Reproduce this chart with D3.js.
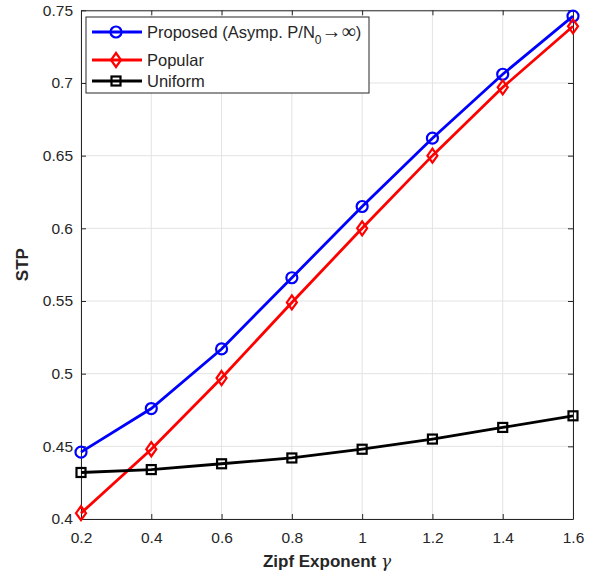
<!DOCTYPE html>
<meta charset="utf-8">
<style>
body{ margin:0; background:white; }
svg text{ font-family: "Liberation Sans", Arial, sans-serif; fill:#262626; }
</style>
<script src="https://d3js.org/d3.v7.min.js"></script>
<svg id="chart"></svg>
<script>
// data
var gammas = [0.2, 0.4, 0.6, 0.8, 1.0, 1.2, 1.4, 1.6];
var proposed = [0.446, 0.476, 0.517, 0.566, 0.615, 0.662, 0.706, 0.746];
var popular = [0.404, 0.448, 0.497, 0.549, 0.600, 0.650, 0.697, 0.739];
var uniform = [0.432, 0.434, 0.438, 0.442, 0.448, 0.455, 0.463, 0.471];
var xTicks = [0.2, 0.4, 0.6, 0.8, 1, 1.2, 1.4, 1.6];
var yTicks = [0.4, 0.45, 0.5, 0.55, 0.6, 0.65, 0.7, 0.75];

var svg_width = 595, svg_height = 578;
var margin = {top: 10.3, right: 22, bottom: 59, left: 81};
var width = svg_width - margin.left - margin.right,
    height = svg_height - margin.top - margin.bottom;

var svg = d3.select("#chart").attr("width", svg_width).attr("height", svg_height);
var g = svg.append("g").attr("transform", "translate(" + margin.left + "," + margin.top + ")");

var x = d3.scaleLinear().domain([0.2, 1.6]).range([0, width]);
var y = d3.scaleLinear().domain([0.4, 0.75]).range([height, 0]);

// grid
g.append("g").selectAll("line").data(xTicks).enter().append("line")
  .attr("x1", d => x(d)).attr("x2", d => x(d)).attr("y1", 0).attr("y2", height)
  .attr("stroke", "#e3e3e3").attr("stroke-width", 1);
g.append("g").selectAll("line").data(yTicks).enter().append("line")
  .attr("y1", d => y(d)).attr("y2", d => y(d)).attr("x1", 0).attr("x2", width)
  .attr("stroke", "#e3e3e3").attr("stroke-width", 1);

// axes (MATLAB style, ticks inward, box on)
function styleAxis(sel){
  sel.selectAll("path").attr("stroke", "#262626");
  sel.selectAll("line").attr("stroke", "#262626");
  sel.selectAll("text").style("font-size", "15.5px").attr("fill", "#262626");
}
var fmt = d => String(d);
g.append("g").attr("transform", "translate(0," + height + ")")
  .call(d3.axisBottom(x).tickValues(xTicks).tickFormat(fmt).tickSizeInner(-5).tickSizeOuter(0).tickPadding(13))
  .call(styleAxis);
g.append("g")
  .call(d3.axisLeft(y).tickValues(yTicks).tickFormat(fmt).tickSizeInner(-5).tickSizeOuter(0).tickPadding(8))
  .call(styleAxis);
g.append("g")
  .call(d3.axisTop(x).tickValues(xTicks).tickFormat("").tickSizeInner(-5).tickSizeOuter(0))
  .call(styleAxis);
g.append("g").attr("transform", "translate(" + width + ",0)")
  .call(d3.axisRight(y).tickValues(yTicks).tickFormat("").tickSizeInner(-5).tickSizeOuter(0))
  .call(styleAxis);

// series
var series = [
  {name: "proposed", values: proposed, color: "#0000ff", marker: "circle"},
  {name: "popular", values: popular, color: "#ff0000", marker: "diamond"},
  {name: "uniform", values: uniform, color: "#000000", marker: "square"}
];

var line = d3.line().x((d, i) => x(gammas[i])).y(d => y(d));

function drawMarker(sel, type, color){
  if(type == "circle"){
    sel.append("circle").attr("r", 5.5);
  } else if(type == "diamond"){
    sel.append("path").attr("d", "M0,-7L5,0L0,7L-5,0Z");
  } else {
    sel.append("rect").attr("x", -4.5).attr("y", -4.5).attr("width", 9).attr("height", 9);
  }
  sel.selectAll("circle,path,rect").attr("fill", "none").attr("stroke", color).attr("stroke-width", 2.2);
}

series.forEach(function(s){
  g.append("path").datum(s.values)
    .attr("d", line).attr("fill", "none").attr("stroke", s.color).attr("stroke-width", 2.8);
  g.append("g").selectAll("g").data(s.values).enter().append("g")
    .attr("transform", (d, i) => "translate(" + x(gammas[i]) + "," + y(d) + ")")
    .each(function(){ drawMarker(d3.select(this), s.marker, s.color); });
});

// legend
var lg = svg.append("g").attr("transform", "translate(86,17)");
lg.append("rect").attr("width", 283).attr("height", 76)
  .attr("fill", "white").attr("stroke", "#262626").attr("stroke-width", 1);
var rows = [15, 43, 64];
series.forEach(function(s, i){
  var row = lg.append("g").attr("transform", "translate(0," + rows[i] + ")");
  row.append("line").attr("x1", 6).attr("x2", 56).attr("y1", 0).attr("y2", 0)
    .attr("stroke", s.color).attr("stroke-width", 2.8);
  var m = row.append("g").attr("transform", "translate(30,0)");
  drawMarker(m, s.marker, s.color);
});
var t0 = lg.append("text").attr("x", 61).attr("y", rows[0] + 6).style("font-size", "16.5px");
t0.append("tspan").text("Proposed (Asymp. P/N");
t0.append("tspan").attr("dy", 6).style("font-size", "12px").text("0");
t0.append("tspan").attr("dy", -6).style("font-family", "'Liberation Serif', serif").style("font-size", "20px").text("\u2192");
t0.append("tspan").style("font-family", "'Liberation Serif', serif").style("font-size", "20px").text("\u221E");
t0.append("tspan").text(")");
lg.append("text").attr("x", 61).attr("y", rows[1] + 6).style("font-size", "16.5px").text("Popular");
lg.append("text").attr("x", 61).attr("y", rows[2] + 6).style("font-size", "16.5px").text("Uniform");

// axis labels
var xl = svg.append("text").attr("x", margin.left + width / 2).attr("y", 567)
  .attr("text-anchor", "middle").style("font-size", "17px").style("font-weight", "bold");
xl.append("tspan").text("Zipf Exponent ");
xl.append("tspan").style("font-family", "'DejaVu Serif', serif").style("font-style", "italic").style("font-weight", "normal").text("\u03B3");

svg.append("text").attr("transform", "translate(27.5," + (margin.top + height / 2) + ") rotate(-90)")
  .attr("text-anchor", "middle").style("font-size", "17px").style("font-weight", "bold").text("STP");
</script>
